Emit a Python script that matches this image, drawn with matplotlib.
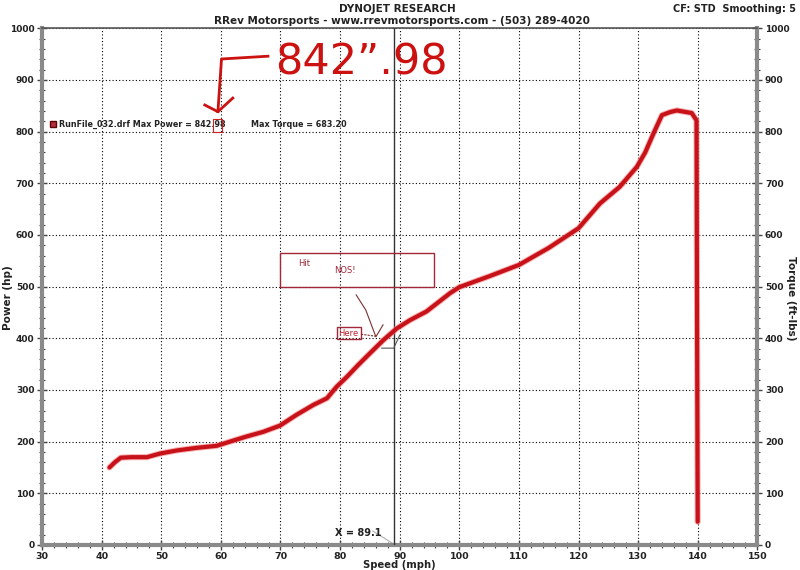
import numpy as np
import matplotlib
matplotlib.use("Agg")
import matplotlib.pyplot as plt
from matplotlib.ticker import MultipleLocator

# power run
speed = [41.3, 42.2, 43.2, 45.0, 47.6, 49.8, 52.6, 55.9, 59.3, 61.5, 64.3, 67.1,
         69.9, 72.7, 75.5, 77.8, 79.4, 81.1, 83.0, 85.0, 87.3, 89.5, 91.7, 94.5,
         98.4, 100.0, 105.0, 110.0, 115.0, 120.0, 123.6, 126.9, 129.8, 131.2,
         132.6, 134.0, 135.4, 136.5, 139.0, 139.8, 139.9, 140.0]
power = [150, 160, 169, 170, 170, 177, 183, 188, 192, 200, 210, 219,
         231, 252, 271, 284, 306, 325, 348, 371, 397, 419, 435, 452,
         487, 499, 520, 542, 575, 613, 661, 693, 732, 760,
         797, 832, 838, 841, 836, 822, 400, 45]

x_ticks = list(range(30, 151, 10))
y_ticks = list(range(0, 1001, 100))
cursor_x = 89.1

W, H = 800, 570
fig = plt.figure(figsize=(8, 5.7), dpi=100)
ax = fig.add_axes([42.1 / W, 1 - 545 / H, (757.3 - 42.1) / W, (545 - 28.3) / H])

def fx(px):
    return px / W

def fy(py):
    return 1 - py / H

ax.set_xlim(30, 150)
ax.set_ylim(0, 1000)
ax.set_xticks(x_ticks)
ax.set_yticks(y_ticks)
ax.xaxis.set_minor_locator(MultipleLocator(2))
ax.yaxis.set_minor_locator(MultipleLocator(20))
ax.grid(True, which="major", color="black", linestyle=(0, (1, 2)), lw=0.8)

for side in ["left", "bottom", "right"]:
    ax.spines[side].set_color("#8a8a8a")
    ax.spines[side].set_linewidth(3)
ax.spines["top"].set_color("#555555")
ax.spines["top"].set_linewidth(1.2)

ax.tick_params(which="both", direction="inout", color="#444444", top=False,
               right=True, labelright=True)
ax.tick_params(which="major", length=7, width=1)
ax.tick_params(which="minor", length=5, width=0.8)
ax.tick_params(axis="y", labelsize=6.5, pad=2)
ax.tick_params(axis="x", labelsize=6.8, pad=1.5)
for lab in ax.get_xticklabels() + ax.yaxis.get_majorticklabels():
    lab.set_fontweight("bold")
    lab.set_color("#222222")
for tk in ax.yaxis.get_major_ticks():
    tk.label2.set_fontweight("bold")
    tk.label2.set_color("#222222")

# power curve
ax.plot(speed, power, color="#f08080", lw=4.4, solid_capstyle="round", alpha=0.6, zorder=4)
ax.plot(speed, power, color="#c8121a", lw=3.0, solid_capstyle="round", zorder=5)

# cursor
ax.axvline(cursor_x, color="#333333", lw=1, zorder=3)
ax.text(79.2, 23, "X = 89.1", fontsize=7, fontweight="bold", color="#222222", va="center")
ax.plot([85.5, 88.7], [27, 4], color="#b0b0b0", lw=0.8)

# legend line
ax.plot([31.9], [814], marker="s", markersize=5, color="#b03040", mec="#600000",
        clip_on=False, zorder=6)
ax.text(32.8, 813, "RunFile_032.drf Max Power = 842.98", fontsize=5.8, fontweight="bold",
        color="#222222", va="center", ha="left", zorder=6)
ax.text(65.0, 813, "Max Torque = 683.20", fontsize=5.8, fontweight="bold",
        color="#222222", va="center", ha="left", zorder=6)
ax.add_patch(plt.Rectangle((58.7, 800), 1.5, 25, fill=False, ec="#d02020", lw=0.8, zorder=7))

# handwritten notes
ax.text(83.6, 933, "842\u201d.98", fontsize=31, color="#cc1111", ha="center", va="center",
        zorder=7)
ax.plot([67.9, 60.1, 59.5], [946, 940.6, 838.6], color="#cc1111", lw=2, zorder=7)
ax.plot([57.3, 59.5, 62.0], [851.6, 838.6, 865], color="#cc1111", lw=2, zorder=7)

ax.add_patch(plt.Rectangle((69.9, 500), 25.9, 66, fill=False, ec="#a02838", lw=1, zorder=6))
ax.text(72.9, 544, "Hit", fontsize=6, color="#a02838", va="center", zorder=6)
ax.text(79.0, 532, "NOS!", fontsize=6, color="#a02838", va="center", zorder=6)
ax.add_patch(plt.Rectangle((79.4, 398), 4.1, 24.5, fill=False, ec="#a02838", lw=1, zorder=6))
ax.text(81.45, 409, "Here", fontsize=6, color="#c02030", ha="center", va="center", zorder=6)
ax.plot([82.7, 84.3, 86.0, 87.2], [484, 455, 403, 426], color="#7a3030", lw=0.8, zorder=6)
ax.plot([83.5, 86.0], [408, 404], color="#7a3030", lw=0.8, ls=(0, (2, 1)), zorder=6)
ax.plot([87.0, 89.0, 90.0], [381, 381, 406], color="#555555", lw=0.8, zorder=6)

# titles and axis names
fig.text(fx(397), fy(9), "DYNOJET RESEARCH", fontsize=7.5, fontweight="bold",
         ha="center", va="center", color="#222222")
fig.text(fx(402), fy(21), "RRev Motorsports - www.rrevmotorsports.com - (503) 289-4020",
         fontsize=7.5, fontweight="bold", ha="center", va="center", color="#222222")
fig.text(fx(796), fy(9), "CF: STD  Smoothing: 5", fontsize=7, fontweight="bold",
         ha="right", va="center", color="#222222")
fig.text(fx(399), fy(565), "Speed (mph)", fontsize=7.2, fontweight="bold",
         ha="center", va="center", color="#222222")
fig.text(fx(8), fy(298), "Power (hp)", fontsize=7.5, fontweight="bold", rotation=90,
         ha="center", va="center", color="#222222")
fig.text(fx(791), fy(298), "Torque (ft-lbs)", fontsize=7.5, fontweight="bold", rotation=270,
         ha="center", va="center", color="#222222")

fig.savefig("out.png", dpi=100)
